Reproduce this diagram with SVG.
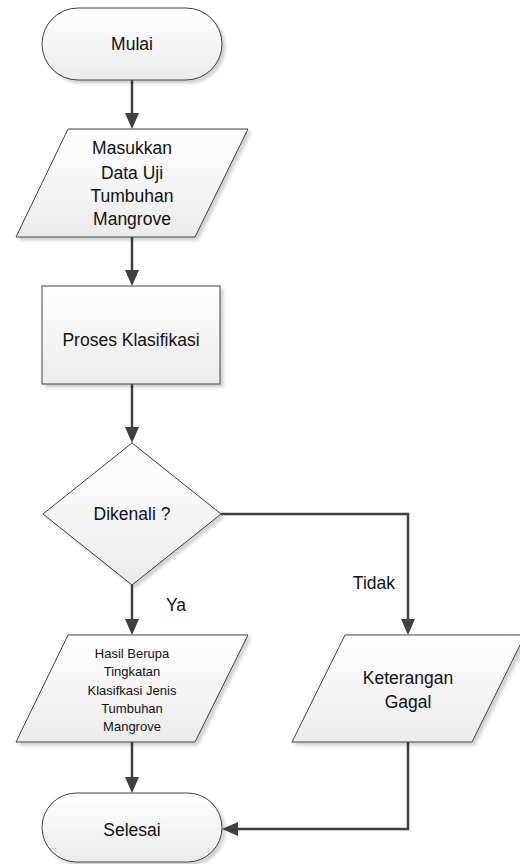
<svg xmlns="http://www.w3.org/2000/svg" width="520" height="864" viewBox="0 0 520 864">
  <defs>
    <linearGradient id="fillg" x1="0" y1="0" x2="0" y2="1">
      <stop offset="0" stop-color="#ffffff"/>
      <stop offset="1" stop-color="#ebebeb"/>
    </linearGradient>
    <filter id="shadow" x="-10%" y="-10%" width="130%" height="130%">
      <feDropShadow dx="3" dy="3" stdDeviation="1.5" flood-color="#000" flood-opacity="0.18"/>
    </filter>
    <marker id="arrow" viewBox="0 0 16 14" refX="11" refY="7" markerWidth="16" markerHeight="14" markerUnits="userSpaceOnUse" orient="auto">
      <path d="M0,0 L16,7 L0,14 z" fill="#404040"/>
    </marker>
    <style>
      .shape { fill: url(#fillg); stroke: #404040; stroke-width: 1; filter: url(#shadow); }
      .conn { fill: none; stroke: #404040; stroke-width: 2.5; marker-end: url(#arrow); }
      text { font-family: "Liberation Sans", Arial, sans-serif; fill: #111; text-anchor: middle; }
      .big { font-size: 17.5px; }
      .small { font-size: 13px; }
    </style>
  </defs>

  <g id="connectors">
    <path class="conn" d="M132 80 V124"/>
    <path class="conn" d="M132 237 V281"/>
    <path class="conn" d="M132 384 V438"/>
    <path class="conn" d="M221 514 H408 V630"/>
    <path class="conn" d="M132 585 V630"/>
    <path class="conn" d="M132 742 V788"/>
    <path class="conn" d="M408 742 V829 H227"/>
  </g>

  <g id="mulai">
    <rect class="shape" x="42" y="8" width="180" height="72" rx="36" ry="36"/>
    <text class="big" x="132" y="50">Mulai</text>
  </g>

  <g id="masukkan">
    <polygon class="shape" points="68,129 248,129 195,237 16,237"/>
    <text class="big" x="132" y="154">Masukkan</text>
    <text class="big" x="132" y="179">Data Uji</text>
    <text class="big" x="132" y="202">Tumbuhan</text>
    <text class="big" x="132" y="225">Mangrove</text>
  </g>

  <g id="proses">
    <rect class="shape" x="42" y="286" width="178" height="98"/>
    <text class="big" x="131" y="346">Proses Klasifikasi</text>
  </g>

  <g id="dikenali">
    <polygon class="shape" points="132,443 221,514 132,585 43,514"/>
    <text class="big" x="132" y="520">Dikenali ?</text>
  </g>

  <g id="label-tidak">
    <text class="big" x="395" y="589" style="text-anchor:end">Tidak</text>
  </g>

  <g id="label-ya">
    <text class="big" x="176" y="611">Ya</text>
  </g>

  <g id="hasil">
    <polygon class="shape" points="68,635 248,635 195,742 16,742"/>
    <text class="small" x="132" y="657.5">Hasil Berupa</text>
    <text class="small" x="132" y="676">Tingkatan</text>
    <text class="small" x="132" y="694.5">Klasifkasi Jenis</text>
    <text class="small" x="132" y="712.5">Tumbuhan</text>
    <text class="small" x="132" y="731">Mangrove</text>
  </g>

  <g id="keterangan">
    <polygon class="shape" points="345,635 525,635 472,742 292,742"/>
    <text class="big" x="408" y="684">Keterangan</text>
    <text class="big" x="408" y="708">Gagal</text>
  </g>

  <g id="selesai">
    <rect class="shape" x="42" y="793" width="180" height="69" rx="34.5" ry="34.5"/>
    <text class="big" x="132" y="836">Selesai</text>
  </g>
</svg>
